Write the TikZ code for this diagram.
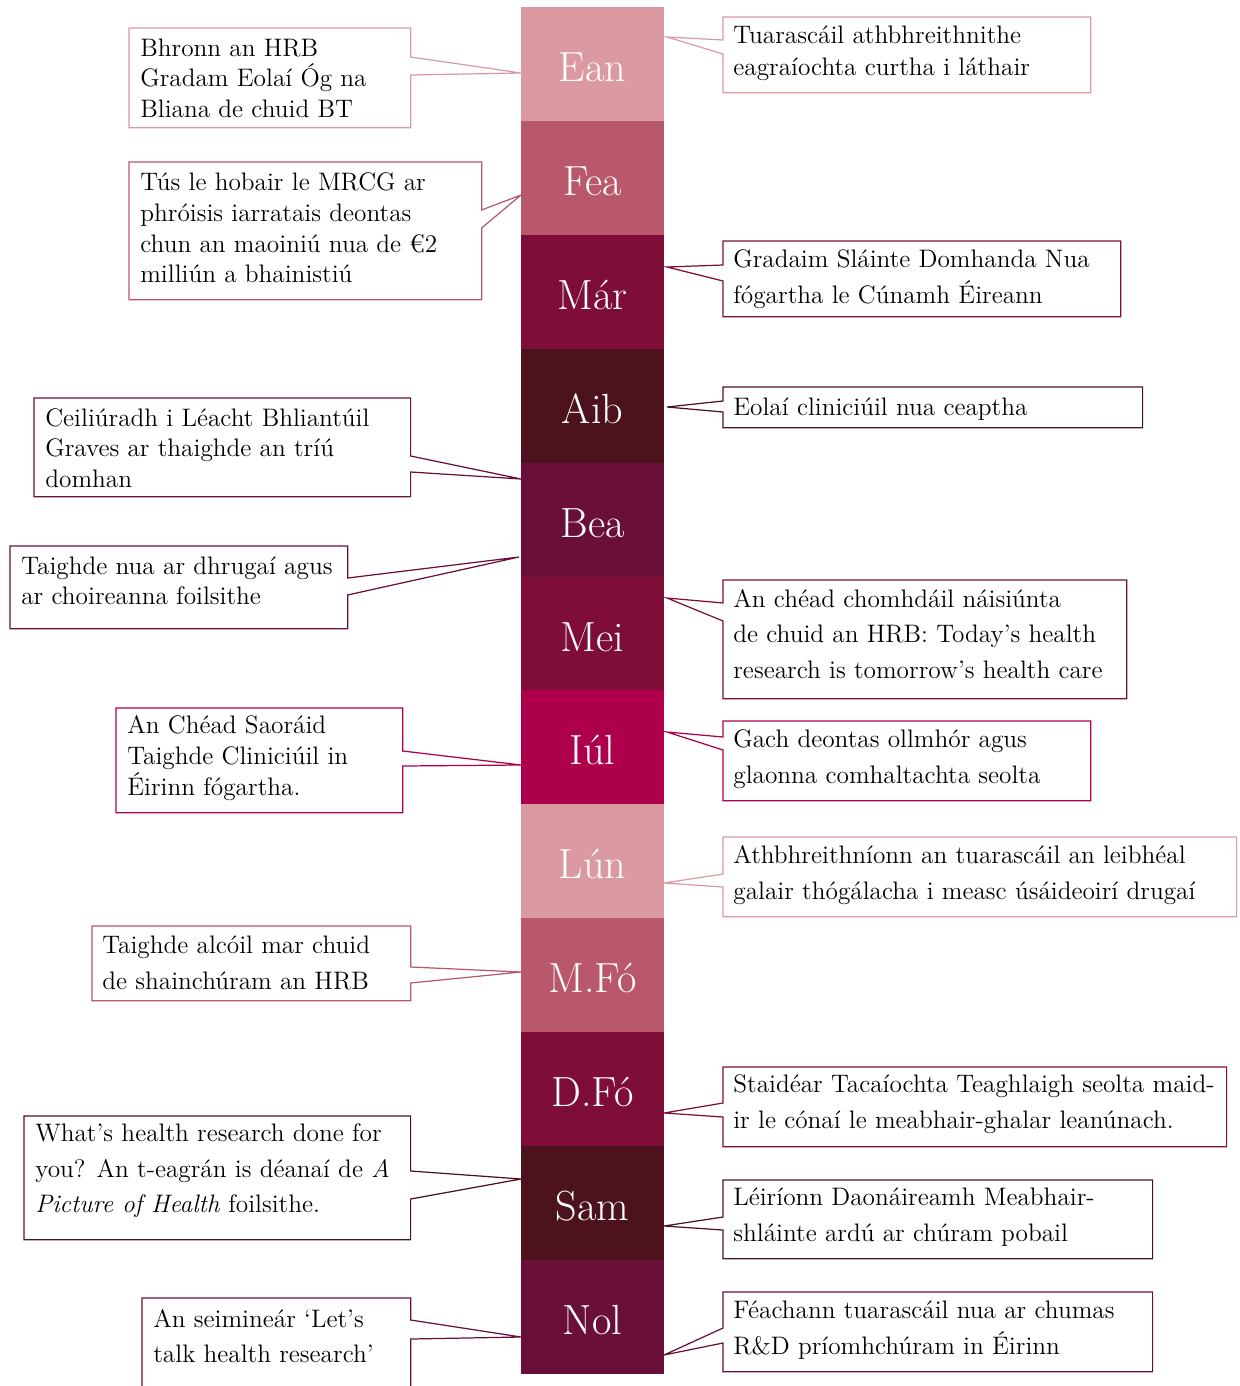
\documentclass[tikz,border=0pt]{standalone}
\usepackage{fontspec}
\usepackage{tikz}
\usetikzlibrary{positioning}
\definecolor{hrbpink}{RGB}{219,154,161}
\definecolor{hrbrose}{RGB}{184,88,106}
\definecolor{hrbwine}{RGB}{126,14,55}
\definecolor{hrbdark}{RGB}{76,18,30}
\definecolor{hrbplum}{RGB}{106,14,58}
\definecolor{hrbmagenta}{RGB}{174,0,74}

\begin{document}
\begin{tikzpicture}[x=0.02cm, y=-0.02cm,
    month/.style={minimum width=2.86cm, minimum height=2.28cm, inner sep=0pt, text=white,
        font=\fontsize{24}{28}\selectfont, text height=20pt, text depth=0pt},
    box/.style={draw=none, inner sep=0pt, anchor=north west},
    note/.style={anchor=west, align=left, inner sep=0pt, text=black,
        font=\fontsize{14.4}{17.4}\selectfont},
    loose/.style={font=\fontsize{14.4}{20.2}\selectfont},
    rim/.style={draw=#1, line width=0.7pt, line join=miter}]
    \useasboundingbox (0,0) rectangle (1240,1386);
    \clip (0,0) rectangle (1240,1386);

    % Month bar
    \foreach \i/\m/\c in {0/Ean/hrbpink, 1/Fea/hrbrose, 2/Már/hrbwine, 3/Aib/hrbdark,
        4/Bea/hrbplum, 5/Mei/hrbwine, 6/Iúl/hrbmagenta, 7/Lún/hrbpink,
        8/M.Fó/hrbrose, 9/D.Fó/hrbwine, 10/Sam/hrbdark, 11/Nol/hrbplum} {
        \node[month, fill=\c] (m\i) at (592.5, 64+\i*113.9) {\m};
    }

    % Ean
    \node[box, minimum width=5.62cm, minimum height=1.98cm] (eanL) at (129,28) {};
    \node[note] (eanLtxt) at (140,78) {Bhronn an HRB\\Gradam Eolaí Óg na\\Bliana de chuid BT};
    \coordinate (eanLtip) at (521,73);
    \draw[rim=hrbpink] (eanL.north west) -- (eanL.north east) -- (eanL.east |- 0,57) -- (eanLtip)
        -- (eanL.east |- 0,75) -- (eanL.south east) -- (eanL.south west) -- cycle;

    \node[box, minimum width=7.34cm, minimum height=1.5cm] (eanR) at (723,17) {};
    \node[note, font=\fontsize{14.4}{18.1}\selectfont] (eanRtxt) at (733,53) {Tuarascáil athbhreithnithe\\eagraíochta curtha i láthair};
    \coordinate (eanRtip) at (667,37);
    \draw[rim=hrbpink] (eanR.north east) -- (eanR.north west) -- (eanR.west |- 0,40) -- (eanRtip)
        -- (eanR.west |- 0,54) -- (eanR.south west) -- (eanR.south east) -- cycle;

    % Fea
    \node[box, minimum width=7.04cm, minimum height=2.74cm] (feaL) at (129,162) {};
    \node[note] (feaLtxt) at (140,228) {Tús le hobair le MRCG ar\\phróisis iarratais deontas\\chun an maoiniú nua de €2\\milliún a bhainistiú};
    \coordinate (feaLtip) at (521,195);
    \draw[rim=hrbrose] (feaL.north west) -- (feaL.north east) -- (feaL.east |- 0,210) -- (feaLtip)
        -- (feaL.east |- 0,228) -- (feaL.south east) -- (feaL.south west) -- cycle;

    % Már
    \node[box, minimum width=7.94cm, minimum height=1.5cm] (marR) at (723,241) {};
    \node[note, loose] (marRtxt) at (733,279) {Gradaim Sláinte Domhanda Nua\\fógartha le Cúnamh Éireann};
    \coordinate (marRtip) at (667,267);
    \draw[rim=hrbwine] (marR.north east) -- (marR.north west) -- (marR.west |- 0,265) -- (marRtip)
        -- (marR.west |- 0,281) -- (marR.south west) -- (marR.south east) -- cycle;

    % Aib
    \node[box, minimum width=8.38cm, minimum height=0.8cm] (aibR) at (723,387) {};
    \node[note] (aibRtxt) at (733,409) {Eolaí cliniciúil nua ceaptha};
    \coordinate (aibRtip) at (667,407);
    \draw[rim=hrbdark] (aibR.north east) -- (aibR.north west) -- (aibR.west |- 0,401) -- (aibRtip)
        -- (aibR.west |- 0,412) -- (aibR.south west) -- (aibR.south east) -- cycle;

    % Bea
    \node[box, minimum width=7.52cm, minimum height=1.96cm] (beaL) at (34,398) {};
    \node[note] (beaLtxt) at (45,448) {Ceiliúradh i Léacht Bhliantúil\\Graves ar thaighde an tríú\\domhan};
    \coordinate (beaLtip) at (521,479);
    \draw[rim=hrbplum] (beaL.north west) -- (beaL.north east) -- (beaL.east |- 0,456) -- (beaLtip)
        -- (beaL.east |- 0,472) -- (beaL.south east) -- (beaL.south west) -- cycle;

    \node[box, minimum width=6.74cm, minimum height=1.64cm] (beaLL) at (10,546) {};
    \node[note] (beaLLtxt) at (21,581) {Taighde nua ar dhrugaí agus\\ar choireanna foilsithe};
    \coordinate (beaLLtip) at (519,557);
    \draw[rim=hrbplum] (beaLL.north west) -- (beaLL.north east) -- (beaLL.east |- 0,578) -- (beaLLtip)
        -- (beaLL.east |- 0,595) -- (beaLL.south east) -- (beaLL.south west) -- cycle;

    % Mei
    \node[box, minimum width=8.06cm, minimum height=2.36cm] (meiR) at (723,580) {};
    \node[note, loose] (meiRtxt) at (733,634) {An chéad chomhdáil náisiúnta\\de chuid an HRB: Today’s health\\research is tomorrow’s health care};
    \coordinate (meiRtip) at (667,598);
    \draw[rim=hrbwine] (meiR.north east) -- (meiR.north west) -- (meiR.west |- 0,603) -- (meiRtip)
        -- (meiR.west |- 0,621) -- (meiR.south west) -- (meiR.south east) -- cycle;

    % Iúl
    \node[box, minimum width=7.34cm, minimum height=1.58cm] (iulR) at (723,721) {};
    \node[note, loose] (iulRtxt) at (733,759) {Gach deontas ollmhór agus\\glaonna comhaltachta seolta};
    \coordinate (iulRtip) at (667,732);
    \draw[rim=hrbmagenta] (iulR.north east) -- (iulR.north west) -- (iulR.west |- 0,737) -- (iulRtip)
        -- (iulR.west |- 0,750) -- (iulR.south west) -- (iulR.south east) -- cycle;

    \node[box, minimum width=5.72cm, minimum height=2.08cm] (iulL) at (116,708) {};
    \node[note] (iulLtxt) at (127,758) {An Chéad Saoráid\\Taighde Cliniciúil in\\Éirinn fógartha.};
    \coordinate (iulLtip) at (521,765);
    \draw[rim=hrbmagenta] (iulL.north west) -- (iulL.north east) -- (iulL.east |- 0,751) -- (iulLtip)
        -- (iulL.east |- 0,766) -- (iulL.south east) -- (iulL.south west) -- cycle;

    % Lún
    \node[box, minimum width=10.26cm, minimum height=1.58cm] (lunR) at (723,837) {};
    \node[note, loose] (lunRtxt) at (733,875) {Athbhreithníonn an tuarascáil an leibhéal\\galair thógálacha i measc úsáideoirí drugaí};
    \coordinate (lunRtip) at (664,883);
    \draw[rim=hrbpink] (lunR.north east) -- (lunR.north west) -- (lunR.west |- 0,874) -- (lunRtip)
        -- (lunR.west |- 0,887) -- (lunR.south west) -- (lunR.south east) -- cycle;

    % M.Fó
    \node[box, minimum width=6.36cm, minimum height=1.48cm] (mfoL) at (92,926) {};
    \node[note, loose] (mfoLtxt) at (102,963) {Taighde alcóil mar chuid\\de shainchúram an HRB};
    \coordinate (mfoLtip) at (521,972);
    \draw[rim=hrbrose] (mfoL.north west) -- (mfoL.north east) -- (mfoL.east |- 0,967) -- (mfoLtip)
        -- (mfoL.east |- 0,983) -- (mfoL.south east) -- (mfoL.south west) -- cycle;

    % D.Fó
    \node[box, minimum width=10.06cm, minimum height=1.58cm] (dfoR) at (723,1067) {};
    \node[note, loose] (dfoRtxt) at (733,1104) {Staidéar Tacaíochta Teaghlaigh seolta maid-\\ir le cónaí le meabhair-ghalar leanúnach.};
    \coordinate (dfoRtip) at (664,1113);
    \draw[rim=hrbwine] (dfoR.north east) -- (dfoR.north west) -- (dfoR.west |- 0,1103) -- (dfoRtip)
        -- (dfoR.west |- 0,1117) -- (dfoR.south west) -- (dfoR.south east) -- cycle;

    % Sam
    \node[box, minimum width=7.72cm, minimum height=2.46cm] (samL) at (24,1116) {};
    \node[note, loose] (samLtxt) at (35,1171) {What’s health research done for\\you? An t-eagrán is déanaí de \textit{A}\\\textit{Picture of Health} foilsithe.};
    \coordinate (samLtip) at (521,1179);
    \draw[rim=hrbdark] (samL.north west) -- (samL.north east) -- (samL.east |- 0,1171) -- (samLtip)
        -- (samL.east |- 0,1199) -- (samL.south east) -- (samL.south west) -- cycle;

    \node[box, minimum width=8.58cm, minimum height=1.56cm] (samR) at (723,1180) {};
    \node[note, loose] (samRtxt) at (733,1217) {Léiríonn Daonáireamh Meabhair-\\shláinte ardú ar chúram pobail};
    \coordinate (samRtip) at (664,1226);
    \draw[rim=hrbdark] (samR.north east) -- (samR.north west) -- (samR.west |- 0,1217) -- (samRtip)
        -- (samR.west |- 0,1230) -- (samR.south west) -- (samR.south east) -- cycle;

    % Nol
    \node[box, minimum width=5.36cm, minimum height=2.4cm] (nolL) at (142,1298) {};
    \node[note, loose] (nolLtxt) at (153,1336) {An seimineár ‘Let’s\\talk health research’};
    \coordinate (nolLtip) at (521,1337);
    \draw[rim=hrbplum] (nolL.north west) -- (nolL.north east) -- (nolL.east |- 0,1320) -- (nolLtip)
        -- (nolL.east |- 0,1339) -- (nolL.south east) -- (nolL.south west) -- cycle;

    \node[box, minimum width=8.58cm, minimum height=1.58cm] (nolR) at (723,1292) {};
    \node[note, loose] (nolRtxt) at (733,1330) {Féachann tuarascáil nua ar chumas\\R\&D príomhchúram in Éirinn};
    \coordinate (nolRtip) at (664,1355);
    \draw[rim=hrbplum] (nolR.north east) -- (nolR.north west) -- (nolR.west |- 0,1328) -- (nolRtip)
        -- (nolR.west |- 0,1343) -- (nolR.south west) -- (nolR.south east) -- cycle;

\end{tikzpicture}
\end{document}
